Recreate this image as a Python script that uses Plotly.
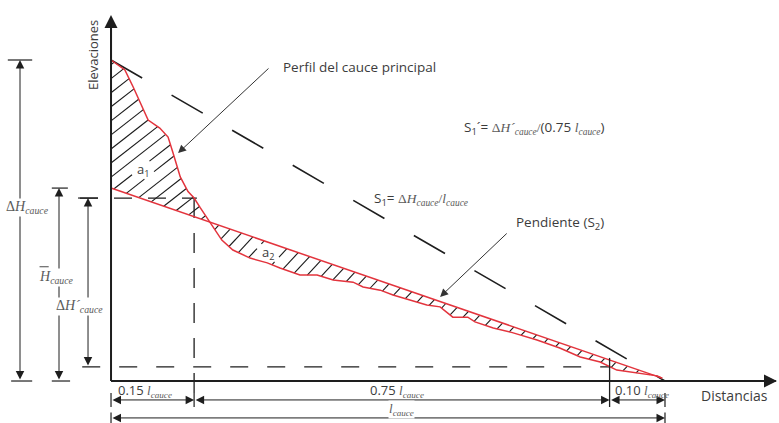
import numpy as np
import plotly.graph_objects as go

# Longitudinal profile of the main channel: distance as a fraction of the
# channel length l_cauce, elevation as a fraction of the total drop ΔH_cauce.
dist = [0.000, 0.025, 0.040, 0.056, 0.067, 0.088, 0.103, 0.112, 0.125, 0.139,
        0.150, 0.161, 0.179, 0.200, 0.220, 0.251, 0.282, 0.305, 0.341, 0.372,
        0.401, 0.437, 0.455, 0.486, 0.509, 0.540, 0.570, 0.594, 0.617, 0.644,
        0.657, 0.690, 0.726, 0.769, 0.810, 0.847, 0.883, 0.913, 0.949, 0.986,
        0.995]
elev = [1.000, 0.969, 0.916, 0.854, 0.813, 0.788, 0.760, 0.710, 0.636, 0.590,
        0.570, 0.540, 0.492, 0.439, 0.408, 0.383, 0.368, 0.352, 0.330, 0.330,
        0.315, 0.308, 0.293, 0.283, 0.268, 0.252, 0.237, 0.231, 0.199, 0.199,
        0.184, 0.165, 0.150, 0.128, 0.103, 0.075, 0.059, 0.034, 0.025, 0.016,
        0.009]

h_mean = 0.601          # start elevation of the equal-area slope line (S2)
el_015 = 0.570          # elevation at 0.15 l_cauce
el_090 = 0.044          # elevation at 0.90 l_cauce
segments = [0.15, 0.75, 0.10]   # split of the channel length

# layout constants (data units)
W, H = 779, 423
X_MIN, X_MAX = -0.2004, 1.2058
Y_MIN, Y_MAX = -0.1308, 1.1869
ROW1, ROW2 = -0.059, -0.115     # dimension rows under the axis
SX = W / (X_MAX - X_MIN)        # screen pixels per data unit
SY = H / (Y_MAX - Y_MIN)

# area labels (position in data units)
A1_POS = (0.0578, 0.657)
A2_POS = (0.2834, 0.399)

RED = "#e3343d"
INK = "#1e1e1e"
TXT = "#3c3c3c"
SER_C = "#5a5a5a"
SANS = "Open Sans"
SERIF = "Liberation Serif"

d = np.array(dist)
e = np.array(elev)

# straight slope line S2 from h_mean to the channel outlet
s2_x = np.array([0.0, d[-1]])
s2_y = np.array([h_mean, e[-1]])
s2_at = np.interp(d, s2_x, s2_y)
diff = e - s2_at
i = int(np.where(diff <= 0)[0][0])     # first point below S2
t = diff[i - 1] / (diff[i - 1] - diff[i])
xc = d[i - 1] + t * (d[i] - d[i - 1])
yc = e[i - 1] + t * (e[i] - e[i - 1])

a1_x = list(d[:i]) + [xc, 0.0]
a1_y = list(e[:i]) + [yc, h_mean]
a2_x = [xc] + list(d[i:]) + [xc]
a2_y = [yc] + list(e[i:]) + [yc]


def cut_box(a, b, box):
    """Return the parts of screen segment a-b lying outside rectangle box."""
    (x0, y0), (x1, y1) = a, b
    bx0, bx1, by0, by1 = box
    dx, dy = x1 - x0, y1 - y0
    t0, t1 = 0.0, 1.0
    for p, q in ((-dx, x0 - bx0), (dx, bx1 - x0),
                 (-dy, y0 - by0), (dy, by1 - y0)):
        if p == 0:
            if q < 0:
                return [(a, b)]
            continue
        r = q / p
        if p < 0:
            t0 = max(t0, r)
        else:
            t1 = min(t1, r)
    if t0 >= t1:
        return [(a, b)]
    out = []
    pt = lambda s: (x0 + s * dx, y0 + s * dy)
    if t0 > 0:
        out.append((a, pt(t0)))
    if t1 < 1:
        out.append((pt(t1), b))
    return out


def hatch(poly_x, poly_y, step_px, angle_deg, gap, phase=0.5):
    """Clip a family of parallel screen-space lines to a polygon,
    leaving a clear gap around the area label."""
    u = np.asarray(poly_x) * SX
    v = np.asarray(poly_y) * SY
    k = np.tan(np.radians(angle_deg))
    cvals = v - k * u
    dc = step_px * k
    gx, gy = gap[0] * SX, gap[1] * SY
    box = (gx - 11, gx + 11, gy - 9, gy + 9)
    c = np.floor(cvals.min() / dc) * dc + phase * dc
    hx, hy = [], []
    n = len(u)
    while c < cvals.max():
        pts = []
        for j in range(n):
            p, q = j, (j + 1) % n
            fp, fq = cvals[p] - c, cvals[q] - c
            if (fp > 0) != (fq > 0):
                s = fp / (fp - fq)
                pts.append(u[p] + s * (u[q] - u[p]))
        pts.sort()
        for a, b in zip(pts[0::2], pts[1::2]):
            for (ax_, ay_), (bx_, by_) in cut_box((a, k * a + c),
                                                  (b, k * b + c), box):
                hx += [ax_ / SX, bx_ / SX, None]
                hy += [ay_ / SY, by_ / SY, None]
        c += dc
    return hx, hy


fig = go.Figure()
for px_, py_, step, ang, gap in ((a1_x, a1_y, 18.0, 38.0, A1_POS),
                                 (a2_x, a2_y, 15.0, 47.0, A2_POS)):
    hx, hy = hatch(px_, py_, step, ang, gap)
    fig.add_trace(go.Scatter(x=hx, y=hy, mode="lines",
                             line=dict(color="#1a1a1a", width=1.1),
                             hoverinfo="skip"))

# S1: total drop over total length (dashed)
fig.add_trace(go.Scatter(x=[0.0, 1.0], y=[1.0, 0.0], mode="lines",
                         line=dict(color=INK, width=1.6, dash="36px,34px"),
                         hoverinfo="skip"))
# reference levels at 0.15 l and 0.90 l
fig.add_trace(go.Scatter(x=[-0.056, 0.155], y=[el_015, el_015], mode="lines",
                         line=dict(color=INK, width=1.3, dash="18px,16px"),
                         hoverinfo="skip"))
fig.add_trace(go.Scatter(x=[-0.052, 0.90], y=[el_090, el_090], mode="lines",
                         line=dict(color=INK, width=1.3, dash="18px,19px"),
                         hoverinfo="skip"))
fig.add_trace(go.Scatter(x=[0.15, 0.15], y=[el_015, ROW1], mode="lines",
                         line=dict(color=INK, width=1.3, dash="20px,15px"),
                         hoverinfo="skip"))

# profile and slope line S2
fig.add_trace(go.Scatter(x=s2_x, y=s2_y, mode="lines",
                         line=dict(color=RED, width=1.5), hoverinfo="skip"))
fig.add_trace(go.Scatter(x=dist, y=elev, mode="lines",
                         line=dict(color=RED, width=1.5), hoverinfo="skip"))

shapes = []


def seg(x0, y0, x1, y1, w=1.2, color=INK):
    shapes.append(dict(type="line", xref="x", yref="y", x0=x0, y0=y0,
                       x1=x1, y1=y1, line=dict(color=color, width=w)))


# axes
seg(0, 0, 1.2, 0, 2)
seg(0, 0, 0, 1.12, 2)
# vertical at 0.90 l
b1 = segments[0]
b2 = segments[0] + segments[1]
seg(b2, 0.072, b2, -0.081, 1.3)
# end ticks of the length dimensions
for xv in (0.0, b1, 1.0):
    seg(xv, ROW1 + 0.022, xv, ROW1 - 0.022)
for xv in (0.0, 1.0):
    seg(xv, ROW2 + 0.017, xv, ROW2 - 0.02)

# left-hand height dimensions
x_dh, x_hm, x_dhp = -0.1643, -0.0939, -0.0415
seg(x_dh - 0.022, 1.0, x_dh + 0.022, 1.0)
seg(x_dh - 0.016, 0.0, x_dh + 0.022, 0.0)
seg(x_hm - 0.013, h_mean, x_hm + 0.016, h_mean)
seg(x_hm - 0.013, 0.0, x_hm + 0.020, 0.0)
seg(x_dhp - 0.018, el_015, x_dhp + 0.018, el_015)

ann = []


def dim(x0, y0, x1, y1):
    ann.append(dict(x=x1, y=y1, ax=x0, ay=y0, xref="x", yref="y", axref="x",
                    ayref="y", text="", showarrow=True, arrowside="end+start",
                    arrowhead=2, arrowsize=1.7, arrowwidth=1, arrowcolor=INK,
                    standoff=0, startstandoff=0))


def leader(x0, y0, x1, y1):
    ann.append(dict(x=x1, y=y1, ax=x0, ay=y0, xref="x", yref="y", axref="x",
                    ayref="y", text="", showarrow=True, arrowhead=2,
                    arrowsize=1.6, arrowwidth=1, arrowcolor="#333"))


# axis arrow heads
ann.append(dict(x=0, y=1.14, ax=0, ay=1.0, xref="x", yref="y", axref="x",
                ayref="y", text="", showarrow=True, arrowhead=2,
                arrowsize=1.3, arrowwidth=2, arrowcolor=INK))
ann.append(dict(x=1.2022, y=0, ax=1.1, ay=0, xref="x", yref="y", axref="x",
                ayref="y", text="", showarrow=True, arrowhead=2,
                arrowsize=1.3, arrowwidth=2, arrowcolor=INK))

dim(0.0, ROW1, b1, ROW1)
dim(b1, ROW1, b2, ROW1)
dim(b2, ROW1, 1.0, ROW1)
dim(0.0, ROW2, 1.0, ROW2)
dim(x_dh, 0.0, x_dh, 1.0)
dim(x_hm, 0.0, x_hm, h_mean)
dim(x_dhp, el_090, x_dhp, el_015)

leader(0.287, 0.978, 0.121, 0.710)
leader(0.717, 0.464, 0.594, 0.262)


def ser(s):
    return f'<span style="font-family:{SERIF};color:{SER_C}">{s}</span>'


LC = ser("<i>l</i><sub><i>cauce</i></sub>")


def label(x, y, text, size=13.5, xanchor="left", bg=None, angle=0,
          color=TXT):
    a = dict(x=x, y=y, xref="x", yref="y", text=text, showarrow=False,
             xanchor=xanchor, yanchor="middle", textangle=angle,
             font=dict(family=SANS, size=size, color=color), borderpad=0)
    if bg:
        a["bgcolor"] = bg
    ann.append(a)


label(-0.0325, 1.0156, "Elevaciones", 13, "center", angle=-90)
label(0.3087, 0.978, "Perfil del cauce principal")
label(0.6354, 0.788,
      "S<sub>1</sub>´= " + ser("Δ<i>H´</i><sub><i>cauce</i></sub>/") +
      "(0.75 " + LC + ")")
label(0.4729, 0.567,
      "S<sub>1</sub>= " + ser("Δ<i>H</i><sub><i>cauce</i></sub>/") + LC)
label(0.7292, 0.492, "Pendiente (S<sub>2</sub>)")
label(A1_POS[0], A1_POS[1], "a<sub>1</sub>", 13, "center")
label(A2_POS[0], A2_POS[1], "a<sub>2</sub>", 13, "center")
label(0.0108, -0.028, "0.15 " + LC, 13)
label(0.516, -0.028, "0.75 " + LC, 13, "center")
label(0.908, -0.028, "0.10 " + LC, 13)
label(0.5246, -0.090, LC, 13, "center", bg="white")
label(1.0632, -0.0436, "Distancias", 14)
label(-0.1913, 0.542, ser("Δ<i>H</i><sub><i>cauce</i></sub>"), 14,
      bg="white")
label(-0.1318, 0.324, ser("<i>H</i><sub><i>cauce</i></sub>"), 14,
      bg="white")
label(-0.1011, 0.2336, ser("Δ<i>H´</i><sub><i>cauce</i></sub>"), 14,
      bg="white")

fig.update_layout(
    width=W, height=H, margin=dict(l=0, r=0, t=0, b=0),
    paper_bgcolor="white", plot_bgcolor="white", showlegend=False,
    xaxis=dict(range=[X_MIN, X_MAX], visible=False, fixedrange=True),
    yaxis=dict(range=[Y_MIN, Y_MAX], visible=False, fixedrange=True),
    annotations=ann,
)
# overbar of the mean-height symbol, drawn above the label
seg(-0.1290, 0.356, -0.1125, 0.356, 1.1, SER_C)
fig.update_layout(shapes=shapes)
fig.write_html("out.html")
